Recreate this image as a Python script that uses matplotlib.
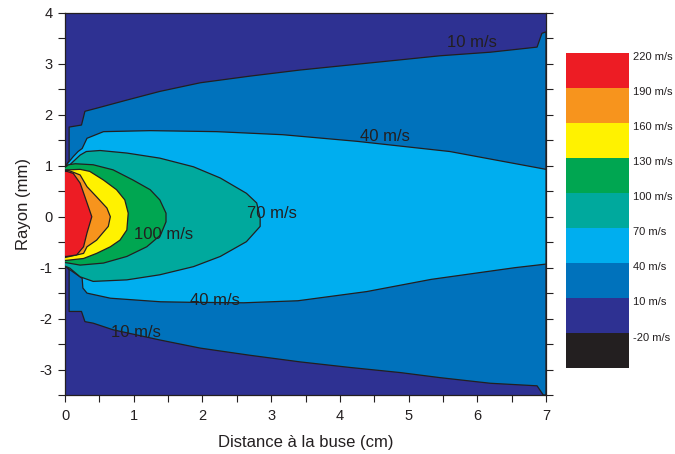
import matplotlib
matplotlib.use("Agg")
from matplotlib import pyplot as plt
import numpy as np

plt.rcParams['font.family'] = ['Liberation Sans', 'DejaVu Sans']
plt.rcParams['axes.unicode_minus'] = False

# contour paths: x in cm, r in mm
# each path runs from the upper left, round the tip (or the right edge), back to the lower left
x_10 = [0.0, 0.06, 0.06, 0.24, 0.29, 0.46, 0.90, 1.38, 1.97, 2.69, 3.42, 4.15, 4.88, 5.46, 6.19, 6.87, 6.94, 7.0,
        7.0, 6.96, 6.87, 6.19, 5.46, 4.88, 4.15, 3.42, 2.69, 1.97, 1.38, 0.70, 0.41, 0.29, 0.24, 0.06, 0.06, 0.0]
r_10 = [0.97, 1.10, 1.76, 1.80, 2.07, 2.13, 2.29, 2.46, 2.63, 2.76, 2.88, 2.98, 3.08, 3.16, 3.23, 3.33, 3.60, 3.63,
        -3.50, -3.50, -3.32, -3.27, -3.16, -3.06, -2.96, -2.85, -2.72, -2.58, -2.42, -2.22, -2.09, -2.06, -1.86, -1.86, -1.05, -0.93]

x_40 = [0.0, 0.04, 0.12, 0.19, 0.25, 0.32, 0.56, 1.24, 2.21, 3.17, 4.25, 5.60, 7.0,
        7.0, 6.55, 5.33, 4.39, 3.39, 2.60, 1.82, 1.39, 0.66, 0.32, 0.26, 0.25, 0.07, 0.0]
r_40 = [0.96, 1.05, 1.18, 1.28, 1.34, 1.54, 1.67, 1.69, 1.67, 1.61, 1.48, 1.28, 0.93,
        -0.93, -1.00, -1.23, -1.47, -1.65, -1.69, -1.68, -1.67, -1.60, -1.50, -1.40, -1.21, -1.04, -0.96]

x_70 = [0.0, 0.07, 0.22, 0.31, 0.51, 0.90, 1.38, 1.87, 2.26, 2.64, 2.79, 2.84, 2.84, 2.64, 2.26, 1.87, 1.38, 0.90, 0.41, 0.22, 0.07, 0.0]
r_70 = [0.96, 1.02, 1.21, 1.28, 1.30, 1.25, 1.15, 0.98, 0.76, 0.46, 0.27, -0.03, -0.19, -0.49, -0.78, -0.98, -1.14, -1.24, -1.27, -1.18, -1.01, -0.97]

x_100 = [0.0, 0.05, 0.15, 0.41, 0.70, 0.99, 1.24, 1.38, 1.47, 1.47, 1.39, 1.19, 0.90, 0.56, 0.22, 0.05, 0.0]
r_100 = [0.97, 1.02, 1.04, 1.02, 0.92, 0.72, 0.53, 0.33, 0.07, -0.10, -0.36, -0.59, -0.78, -0.91, -0.95, -0.91, -0.90]

x_130 = [0.0, 0.05, 0.22, 0.36, 0.56, 0.75, 0.87, 0.92, 0.90, 0.80, 0.66, 0.46, 0.27, 0.07, 0.0]
r_130 = [0.92, 0.92, 0.93, 0.89, 0.72, 0.53, 0.33, 0.07, -0.26, -0.46, -0.59, -0.72, -0.82, -0.85, -0.86]

x_160 = [0.0, 0.05, 0.22, 0.32, 0.46, 0.61, 0.66, 0.63, 0.46, 0.32, 0.27, 0.07, 0.0]
r_160 = [0.91, 0.91, 0.82, 0.59, 0.39, 0.17, 0.0, -0.19, -0.46, -0.59, -0.72, -0.78, -0.80]

x_190 = [0.0, 0.03, 0.12, 0.22, 0.29, 0.39, 0.32, 0.27, 0.17, 0.03, 0.0]
r_190 = [0.89, 0.89, 0.85, 0.66, 0.39, 0.0, -0.32, -0.59, -0.75, -0.78, -0.78]

paths = [(x_10, r_10), (x_40, r_40), (x_70, r_70), (x_100, r_100),
         (x_130, r_130), (x_160, r_160), (x_190, r_190)]

# colour bands, lowest first
levels = [-50, -20, 10, 40, 70, 100, 130, 160, 190, 220]
colors = ['#231f20', '#2e3192', '#0072bc', '#00aeef', '#00a99d',
          '#00a651', '#fff200', '#f7941d', '#ed1c24']

# in-line contour labels
label_x = [5.92, 4.66, 2.18, 3.01, 1.43, 1.03]
label_r = [3.43, 1.57, -1.64, 0.06, -0.35, -2.28]
label_txt = ['10 m/s', '40 m/s', '40 m/s', '70 m/s', '100 m/s', '10 m/s']

fig = plt.figure(figsize=(6.75, 4.54), dpi=100)
ax = fig.add_axes([0.0963, 0.130, 0.7126, 0.8414])
ax.set_facecolor(colors[1])

for i, (px, pr) in enumerate(paths):
    ax.fill(px, pr, color=colors[i + 2], lw=0, zorder=2 + i)
    ax.plot(px, pr, color='#231f20', lw=0.9, zorder=2 + i + 0.5)

for lx, lr, t in zip(label_x, label_r, label_txt):
    ax.text(lx, lr, t, fontsize=12, color='#231f20', ha='center', va='center', zorder=20)

ax.set_xlim(0, 7)
ax.set_ylim(-3.5, 4)
ax.set_xticks(np.arange(0, 8, 1))
ax.set_xticks(np.arange(0, 7.01, 0.5), minor=True)
ax.set_yticks(np.arange(-3, 5, 1))
ax.set_yticks(np.arange(-3.5, 4.01, 0.5), minor=True)
ax.tick_params(which='both', direction='out', labelsize=10.5, color='#231f20', labelcolor='#231f20')
ax.tick_params(which='both', length=5, width=0.8)
ax.tick_params(axis='y', which='both', right=True)
ax.tick_params(axis='y', which='major', pad=4)
ax.tick_params(axis='x', which='major', pad=5)
for s in ax.spines.values():
    s.set_color('#231f20')
    s.set_linewidth(0.9)
ax.set_xlabel('Distance à la buse (cm)', fontsize=12, color='#231f20', labelpad=9)
ax.set_ylabel('Rayon (mm)', fontsize=12, color='#231f20', labelpad=6)

# colour bar: stacked bands, labels at the top of each band
cax = fig.add_axes([0.8385, 0.1894, 0.0933, 0.694])
for i in range(len(colors)):
    cax.bar(0, levels[i + 1] - levels[i], bottom=levels[i], width=1, color=colors[i], lw=0)
cax.set_xlim(-0.5, 0.5)
cax.set_ylim(levels[0], levels[-1])
cax.set_xticks([])
cax.yaxis.tick_right()
cax.set_yticks([v - 3 for v in levels[1:]])
cax.set_yticklabels([f'{v} m/s' for v in levels[1:]])
cax.tick_params(axis='y', length=0, labelsize=8, pad=3, labelcolor='#231f20')
for s in cax.spines.values():
    s.set_visible(False)

plt.savefig('out.png', dpi=100)
